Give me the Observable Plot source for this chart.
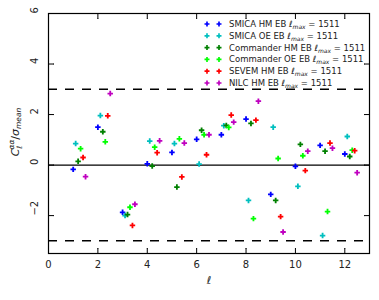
<!DOCTYPE html>
<html><head><meta charset="utf-8">
<script src="https://cdn.jsdelivr.net/npm/d3@7"></script>
<script src="https://cdn.jsdelivr.net/npm/@observablehq/plot@0.6"></script>
<style>
body{margin:0;background:#fff}
svg{font-family:"DejaVu Sans",sans-serif}
</style>
</head><body><div id="chart"></div>
<script>
// multipole bins and per-series dodge in ℓ
const bins = [1,2,3,4,5,6,7,8,9,10,11,12];
const dodge = [0, 0.1, 0.2, 0.3, 0.4, 0.5];
const seriesNames = ["SMICA HM EB","SMICA OE EB","Commander HM EB","Commander OE EB","SEVEM HM EB","NILC HM EB"];
const seriesColors = ["#0000ff","#00bfbf","#008000","#00ff00","#ff0000","#bf00bf"];
const lmax = 1511;

const smicaHM     = [-0.17, 1.50, -1.87, 0.05, 0.50, 1.02, 1.20, 1.82, -1.16, -0.05, 0.78, 0.44];
const smicaOE     = [ 0.85, 1.96, -2.00, 0.95, 0.85, 0.04, 1.56, -1.40, 1.50, -0.84, -2.79, 1.13];
const commanderHM = [ 0.15, 1.32, -1.96, -0.04, -0.87, 1.38, 1.57, 1.65, -1.40, 0.82, 0.55, 0.34];
const commanderOE = [ 0.65, 0.92, -1.67, 0.71, 1.04, 1.20, 1.49, -2.12, 0.26, 0.37, -1.84, 0.59];
const sevemHM     = [ 0.30, 1.95, -2.39, 0.49, -0.47, 0.41, 1.98, 1.78, -2.04, -0.22, 0.87, 0.57];
const nilcHM      = [-0.46, 2.83, -1.55, 0.96, 0.87, 1.20, 1.70, 2.53, -2.65, 0.55, 0.67, -0.30];
const seriesValues = [smicaHM, smicaOE, commanderHM, commanderOE, sevemHM, nilcHM];

const thresholds = [-3, 3];
const xTicks = [0,2,4,6,8,10,12];
const yTicks = [-2,0,2,4,6];

const points = [];
seriesValues.forEach((vals, i) => vals.forEach((v, j) => points.push({l: bins[j] + dodge[i], v, series: seriesNames[i]})));

const fmt = d => d < 0 ? "\u2212" + Math.abs(d) : String(d);
const tickOpts = {length: 5, anchor: "start", r: 0, stroke: "black", strokeWidth: 1};

const chart = Plot.plot({
  width: 379, height: 300,
  marginLeft: 48, marginRight: 10, marginTop: 13, marginBottom: 47,
  x: {domain: [0, 13], axis: null},
  y: {domain: [-3.5, 6], axis: null},
  color: {domain: seriesNames, range: seriesColors},
  style: {fontFamily: "DejaVu Sans", fontSize: "10px", background: "white", color: "black"},
  marks: [
    Plot.ruleY([0], {stroke: "black", strokeWidth: 1.2}),
    Plot.ruleY(thresholds, {stroke: "black", strokeWidth: 1.5, strokeDasharray: "9,8"}),
    Plot.dot(points, {x: "l", y: "v", fill: "series", symbol: "cross", r: 2.3}),
    Plot.frame({stroke: "black", strokeWidth: 1.2}),
    Plot.vector(xTicks, {x: d => d, frameAnchor: "bottom", rotate: 0, ...tickOpts}),
    Plot.vector(xTicks, {x: d => d, frameAnchor: "top", rotate: 180, ...tickOpts}),
    Plot.vector(yTicks, {y: d => d, frameAnchor: "left", rotate: 90, ...tickOpts}),
    Plot.vector(yTicks, {y: d => d, frameAnchor: "right", rotate: -90, ...tickOpts}),
    Plot.text(xTicks, {x: d => d, text: d => fmt(d), frameAnchor: "bottom", dy: 14, fontSize: 10, fill: "#222"}),
    Plot.text(yTicks, {y: d => d, text: d => fmt(d), frameAnchor: "left", dx: -14, rotate: -90, fontSize: 10, fill: "#222"}),
    Plot.text(["ℓ"], {text: d => d, frameAnchor: "bottom", dy: 30, fontStyle: "italic", fontSize: 11, fill: "#222"})
  ]
});
document.getElementById("chart").appendChild(chart);

const svg = d3.select(chart);
// y label: C_ℓ^{αα} / σ_mean
const yl = svg.append("text")
  .attr("transform", "translate(19,132) rotate(-90)")
  .attr("text-anchor", "middle")
  .attr("fill", "#222")
  .attr("font-size", 11)
  .attr("font-style", "italic");
yl.append("tspan").text("C");
yl.append("tspan").attr("font-size", 7.5).attr("dy", 3).text("ℓ");
yl.append("tspan").attr("font-size", 7.5).attr("dx", -4).attr("dy", -8).text("αα");
yl.append("tspan").attr("font-size", 11).attr("dy", 5).attr("font-style", "normal").text("/");
yl.append("tspan").text("σ");
yl.append("tspan").attr("font-size", 7.5).attr("dy", 2).text("mean");

// legend
const lg = svg.append("g").attr("text-anchor", "start");
const sym = d3.symbol(d3.symbolCross, Math.PI * 2.1 * 2.1);
seriesNames.forEach((name, i) => {
  const y = 24 + i * 11.8;
  [207, 219].forEach(x => lg.append("path").attr("d", sym()).attr("transform", `translate(${x},${y})`).attr("fill", seriesColors[i]));
  const t = lg.append("text").attr("x", 229).attr("y", y).attr("dy", "0.35em").attr("font-size", 8.5).attr("fill", "#222").attr("text-anchor", "start");
  t.append("tspan").text(name + " ");
  t.append("tspan").attr("font-style", "italic").text("ℓ");
  t.append("tspan").attr("font-style", "italic").attr("font-size", 6).attr("dy", 2).text("max");
  t.append("tspan").attr("dy", -2).text(" = " + lmax);
});
</script>
</body></html>
